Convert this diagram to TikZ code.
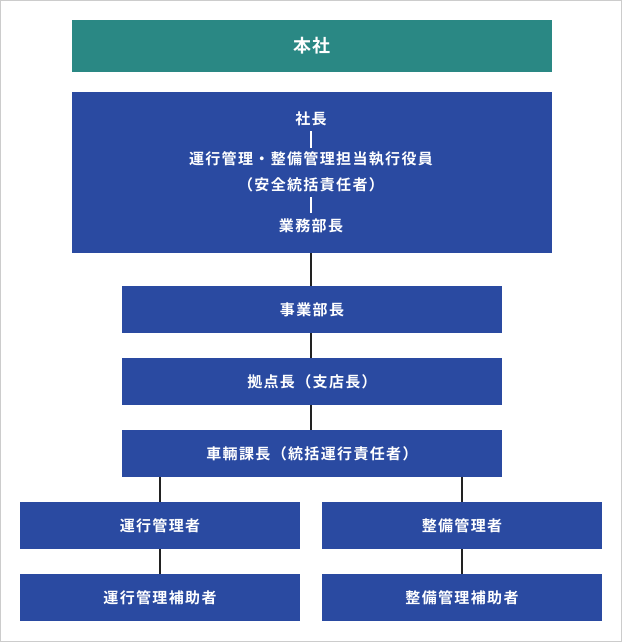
\documentclass[tikz,border=0pt]{standalone}
\usepackage{fontspec}
\newfontfamily\cjk[LetterSpace=9]{Noto Sans CJK JP Bold}
\newfontfamily\cjkh[LetterSpace=3]{Noto Sans CJK JP Bold}
\definecolor{teal1}{HTML}{2A8884}
\definecolor{blue1}{HTML}{2A4AA1}
\definecolor{line1}{HTML}{222222}
\definecolor{frame1}{HTML}{CCCCCC}
\begin{document}
\begin{tikzpicture}[x=1pt,y=-1pt,
  box/.style={fill=blue1,draw=none,inner sep=0pt,text=white,font=\cjk\fontsize{15}{17}\selectfont},
  lbl/.style={text=white,inner sep=0pt,font=\cjk\fontsize{15}{17}\selectfont},
  conn/.style={draw=line1,line width=2pt},
  wconn/.style={draw=white,line width=2pt}]
\draw[frame1,line width=1pt,fill=white] (0.5,0.5) rectangle (621.5,641.5);
\useasboundingbox (0,0) rectangle (622,642);
\node[box,fill=teal1,minimum width=480pt,minimum height=52pt,font=\cjkh\fontsize{18}{20}\selectfont] (honsha) at (312,46) {本社};
\node[box,minimum width=480pt,minimum height=161pt] (top) at (312,172.5) {};
\node[lbl] (shacho) at (311,119) {社長};
\node[lbl] (yakuin) at (311,159) {運行管理・整備管理担当執行役員};
\node[lbl] (sekinin) at (311,185) {（安全統括責任者）};
\node[lbl] (gyomu) at (311,226) {業務部長};
\coordinate (w1a) at (311,131); \coordinate (w1b) at (311,148);
\coordinate (w2a) at (311,197); \coordinate (w2b) at (311,213);
\draw[wconn] (w1a) -- (w1b);
\draw[wconn] (w2a) -- (w2b);
\node[box,minimum width=380pt,minimum height=47pt] (jigyo) at (312,309.5) {事業部長};
\node[box,minimum width=380pt,minimum height=47pt] (kyoten) at (312,381.5) {拠点長（支店長）};
\node[box,minimum width=380pt,minimum height=47pt] (kacho) at (312,453.5) {車輛課長（統括運行責任者）};
\node[box,minimum width=280pt,minimum height=47pt] (unko) at (160,525.5) {運行管理者};
\node[box,minimum width=280pt,minimum height=47pt] (seibi) at (462,525.5) {整備管理者};
\node[box,minimum width=280pt,minimum height=47pt] (unkoh) at (160,597.5) {運行管理補助者};
\node[box,minimum width=280pt,minimum height=47pt] (seibih) at (462,597.5) {整備管理補助者};
\draw[conn] (top.south -| jigyo.north) ++(-1,0) -- ([xshift=-1pt]jigyo.north);
\draw[conn] (jigyo.south) ++(-1,0) -- ([xshift=-1pt]kyoten.north);
\draw[conn] (kyoten.south) ++(-1,0) -- ([xshift=-1pt]kacho.north);
\draw[conn] (kacho.south -| unko.north) -- (unko.north);
\draw[conn] (kacho.south -| seibi.north) -- (seibi.north);
\draw[conn] (unko.south) -- (unkoh.north);
\draw[conn] (seibi.south) -- (seibih.north);
\end{tikzpicture}
\end{document}
